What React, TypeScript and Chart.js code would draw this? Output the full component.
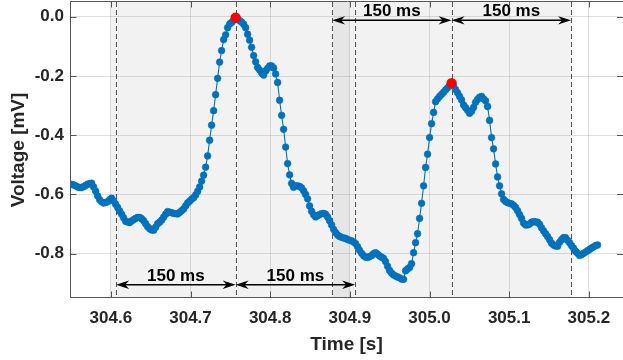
import React, { useEffect, useRef } from 'react';
import { Chart, registerables } from 'chart.js';

Chart.register(...registerables);

// ---- data ----
const SAMPLE_START_S = 304.5508;
const SAMPLE_STEP_S = 0.00251;
const VOLTAGE_MV = [
  -0.566, -0.568, -0.571, -0.575, -0.577, -0.577, -0.574, -0.570, -0.565, -0.564,
  -0.562, -0.575, -0.589, -0.605, -0.618, -0.625, -0.629, -0.627, -0.625, -0.618,
  -0.613, -0.622, -0.633, -0.644, -0.656, -0.667, -0.679, -0.691, -0.693, -0.695,
  -0.690, -0.685, -0.681, -0.678, -0.678, -0.682, -0.689, -0.699, -0.709, -0.716,
  -0.720, -0.721, -0.711, -0.699, -0.694, -0.687, -0.677, -0.667, -0.658, -0.660,
  -0.662, -0.664, -0.665, -0.666, -0.661, -0.655, -0.649, -0.639, -0.629, -0.623,
  -0.616, -0.611, -0.602, -0.590, -0.575, -0.555, -0.535, -0.508, -0.470, -0.417,
  -0.366, -0.317, -0.263, -0.208, -0.153, -0.114, -0.077, -0.061, -0.037, -0.024,
  -0.019, -0.012, -0.003, -0.008, -0.013, -0.018, -0.025, -0.037, -0.059, -0.079,
  -0.103, -0.131, -0.152, -0.171, -0.180, -0.190, -0.197, -0.183, -0.174, -0.166,
  -0.166, -0.173, -0.193, -0.222, -0.282, -0.333, -0.380, -0.440, -0.496, -0.534,
  -0.563, -0.576, -0.571, -0.571, -0.573, -0.578, -0.588, -0.600, -0.615, -0.639,
  -0.657, -0.669, -0.676, -0.672, -0.668, -0.665, -0.664, -0.667, -0.676, -0.689,
  -0.703, -0.718, -0.729, -0.737, -0.742, -0.745, -0.747, -0.749, -0.752, -0.755,
  -0.757, -0.761, -0.766, -0.777, -0.789, -0.799, -0.807, -0.812, -0.813, -0.810,
  -0.807, -0.800, -0.797, -0.802, -0.808, -0.812, -0.816, -0.827, -0.843, -0.857,
  -0.866, -0.872, -0.876, -0.879, -0.882, -0.886, -0.887, -0.858, -0.852, -0.847,
  -0.834, -0.797, -0.763, -0.733, -0.681, -0.630, -0.571, -0.509, -0.464, -0.408,
  -0.361, -0.323, -0.287, -0.277, -0.269, -0.262, -0.255, -0.247, -0.240, -0.232,
  -0.224, -0.234, -0.246, -0.257, -0.269, -0.281, -0.298, -0.307, -0.316, -0.326,
  -0.319, -0.306, -0.289, -0.279, -0.272, -0.269, -0.277, -0.284, -0.303, -0.350,
  -0.408, -0.446, -0.497, -0.541, -0.571, -0.598, -0.617, -0.624, -0.628, -0.630,
  -0.632, -0.637, -0.644, -0.655, -0.668, -0.681, -0.697, -0.703, -0.703, -0.700,
  -0.694, -0.692, -0.693, -0.694, -0.701, -0.713, -0.723, -0.733, -0.742, -0.753,
  -0.765, -0.771, -0.774, -0.775, -0.762, -0.753, -0.746, -0.746, -0.755, -0.763,
  -0.773, -0.782, -0.792, -0.799, -0.806, -0.803, -0.799, -0.795, -0.790, -0.786,
  -0.781, -0.777, -0.773, -0.771,
];
const PEAK_INDICES = [82, 190];
const WINDOW_S = 0.15;
const WINDOW_LABEL = '150 ms';
const SHADE_WINDOWS = [
  [304.6, 304.9],
  [304.879, 305.179],
];
const ARROW_LEVELS_MV = [-0.905, -0.012];
const X_TICKS = [304.6, 304.7, 304.8, 304.9, 305.0, 305.1, 305.2];
const Y_TICKS = [-0.8, -0.6, -0.4, -0.2, 0.0];
const X_LIMITS = [304.55, 305.2416];
const Y_LIMITS = [-0.95, 0.05];
const X_TITLE = 'Time [s]';
const Y_TITLE = 'Voltage [mV]';

const FONT = '"Liberation Sans", Arial, Helvetica, sans-serif';
const TEXT = '#262626';
const BLUE = '#0072BD';

const sampleTime = (i: number) => SAMPLE_START_S + i * SAMPLE_STEP_S;

function arrowHead(ctx: CanvasRenderingContext2D, tip: number, y: number, dir: number) {
  const L = 13, W = 4.2, N = 9;
  ctx.beginPath();
  ctx.moveTo(tip, y);
  ctx.lineTo(tip - dir * L, y - W);
  ctx.lineTo(tip - dir * N, y);
  ctx.lineTo(tip - dir * L, y + W);
  ctx.closePath();
  ctx.fill();
}

const overlay = {
  id: 'overlay',
  beforeDatasetsDraw(chart: any) {
    const { ctx, chartArea: a, scales } = chart;
    const xs = scales.x;
    ctx.save();
    ctx.beginPath();
    ctx.rect(a.left, a.top, a.right - a.left, a.bottom - a.top);
    ctx.clip();
    ctx.fillStyle = 'rgba(128,128,128,0.1)';
    SHADE_WINDOWS.forEach(([s, e]) => {
      const x1 = xs.getPixelForValue(s);
      const x2 = xs.getPixelForValue(e);
      ctx.fillRect(x1, a.top, x2 - x1, a.bottom - a.top);
    });
    ctx.strokeStyle = 'rgba(30,30,30,0.75)';
    ctx.lineWidth = 1;
    ctx.setLineDash([5, 3]);
    PEAK_INDICES.forEach((pi) => {
      const tp = sampleTime(pi);
      [tp - WINDOW_S, tp, tp + WINDOW_S].forEach((t) => {
        const x = Math.round(xs.getPixelForValue(t)) + 0.5;
        ctx.beginPath();
        ctx.moveTo(x, a.top);
        ctx.lineTo(x, a.bottom);
        ctx.stroke();
      });
    });
    ctx.restore();
  },
  afterDatasetsDraw(chart: any) {
    const { ctx, scales } = chart;
    const xs = scales.x, ys = scales.y;
    ctx.save();
    ctx.fillStyle = '#000';
    ctx.strokeStyle = '#000';
    ctx.lineWidth = 1.5;
    ctx.font = `bold 17px ${FONT}`;
    ctx.textAlign = 'center';
    ctx.textBaseline = 'alphabetic';
    PEAK_INDICES.forEach((pi, k) => {
      const tp = sampleTime(pi);
      const y = ys.getPixelForValue(ARROW_LEVELS_MV[k]);
      [[tp - WINDOW_S, tp], [tp, tp + WINDOW_S]].forEach(([s, e]) => {
        const x1 = xs.getPixelForValue(s);
        const x2 = xs.getPixelForValue(e);
        ctx.beginPath();
        ctx.moveTo(x1 + 6, y);
        ctx.lineTo(x2 - 6, y);
        ctx.stroke();
        arrowHead(ctx, x1, y, -1);
        arrowHead(ctx, x2, y, 1);
        ctx.fillText(WINDOW_LABEL, (x1 + x2) / 2, y - 4);
      });
    });
    ctx.restore();
  },
  afterDraw(chart: any) {
    const { ctx, chartArea: a, scales } = chart;
    const xs = scales.x, ys = scales.y;
    ctx.save();
    ctx.strokeStyle = '#555555';
    ctx.lineWidth = 1;
    ctx.setLineDash([]);
    const L = Math.round(a.left) - 0.5;
    const B = Math.round(a.bottom) - 0.5;
    const T = Math.round(a.top) - 0.5;
    ctx.beginPath();
    ctx.moveTo(L, T); ctx.lineTo(a.right + 2, T);
    ctx.moveTo(L, T); ctx.lineTo(L, B);
    ctx.lineTo(a.right + 2, B);
    X_TICKS.forEach((v) => {
      const x = Math.round(xs.getPixelForValue(v)) + 0.5;
      ctx.moveTo(x, B); ctx.lineTo(x, B - 6);
      ctx.moveTo(x, T); ctx.lineTo(x, T + 6);
    });
    Y_TICKS.forEach((v) => {
      const y = Math.round(ys.getPixelForValue(v)) + 0.5;
      ctx.moveTo(L, y); ctx.lineTo(L + 6, y);
      ctx.moveTo(a.right + 1, y); ctx.lineTo(a.right - 5, y);
    });
    ctx.stroke();

    ctx.fillStyle = TEXT;
    ctx.font = `bold 19px ${FONT}`;
    ctx.textAlign = 'center';
    ctx.textBaseline = 'alphabetic';
    ctx.fillText(X_TITLE, (a.left + a.right) / 2, 350);
    ctx.translate(24, (a.top + a.bottom) / 2);
    ctx.rotate(-Math.PI / 2);
    ctx.fillText(Y_TITLE, 0, 0);
    ctx.restore();
  },
};

export default function App() {
  const ref = useRef<HTMLCanvasElement | null>(null);
  useEffect(() => {
    if (!ref.current) return;
    Chart.defaults.font.family = FONT;
    const points = VOLTAGE_MV.map((v, i) => ({ x: sampleTime(i), y: v }));
    const peaks = PEAK_INDICES.map((i) => ({ x: sampleTime(i), y: VOLTAGE_MV[i] }));
    const chart = new Chart(ref.current, {
      type: 'scatter',
      data: {
        datasets: [
          {
            data: peaks,
            order: 0,
            pointRadius: 5.2,
            pointBackgroundColor: '#ff0000',
            pointBorderColor: '#ff0000',
            pointBorderWidth: 0,
            showLine: false,
          },
          {
            data: points,
            order: 1,
            showLine: true,
            borderColor: BLUE,
            borderWidth: 1.1,
            pointRadius: 3.4,
            pointBackgroundColor: BLUE,
            pointBorderColor: BLUE,
            pointBorderWidth: 0.5,
          },
        ],
      },
      options: {
        responsive: false,
        animation: false,
        events: [],
        layout: { autoPadding: false, padding: { top: 2, right: 1, left: 0, bottom: 0 } },
        plugins: { legend: { display: false }, tooltip: { enabled: false } },
        scales: {
          x: {
            type: 'linear',
            min: X_LIMITS[0],
            max: X_LIMITS[1],
            afterBuildTicks: (s: any) => { s.ticks = X_TICKS.map((v) => ({ value: v })); },
            afterFit: (s: any) => { s.height = 62; s.paddingLeft = 0; s.paddingRight = 0; },
            grid: { color: 'rgba(38,38,38,0.15)', drawTicks: false, lineWidth: 1 },
            border: { display: false },
            ticks: {
              padding: 10,
              color: TEXT,
              font: { size: 17, weight: 'bold' },
              maxRotation: 0,
              autoSkip: false,
              callback: (v: any) => Number(v).toFixed(1),
            },
          },
          y: {
            type: 'linear',
            min: Y_LIMITS[0],
            max: Y_LIMITS[1],
            afterBuildTicks: (s: any) => { s.ticks = Y_TICKS.map((v) => ({ value: v })); },
            afterFit: (s: any) => { s.width = 71; s.paddingTop = 0; s.paddingBottom = 0; },
            grid: { color: 'rgba(38,38,38,0.15)', drawTicks: false, lineWidth: 1 },
            border: { display: false },
            ticks: {
              padding: 7,
              color: TEXT,
              font: { size: 17, weight: 'bold' },
              autoSkip: false,
              callback: (v: any) => Number(v).toFixed(1),
            },
          },
        },
      },
      plugins: [overlay],
    });
    return () => chart.destroy();
  }, []);
  return (
    <div style={{ position: 'absolute', left: 0, top: 0, width: 623, height: 360 }}>
      <canvas ref={ref} width={623} height={360} style={{ width: 623, height: 360 }} />
    </div>
  );
}
